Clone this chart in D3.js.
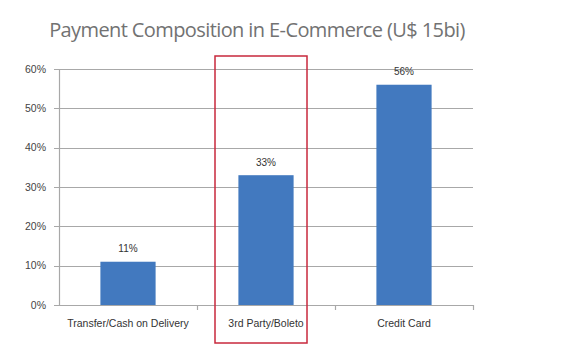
<!DOCTYPE html>
<html><head><meta charset="utf-8">
<script src="https://cdn.jsdelivr.net/npm/d3@7"></script>
<style>body{margin:0;background:#fff}svg{display:block}</style>
</head><body>
<svg id="c" width="588" height="355"></svg>
<script>
const categories = ["Transfer/Cash on Delivery", "3rd Party/Boleto", "Credit Card"];
const values = [11, 33, 56];
const valueLabels = ["11%", "33%", "56%"];
const yTicks = [0, 10, 20, 30, 40, 50, 60];
const title = "Payment Composition in E-Commerce (U$ 15bi)";
const highlighted = "3rd Party/Boleto";

const svg = d3.select("#c");
const m = {left: 59, right: 473, top: 69, bottom: 305};
const x = d3.scaleBand().domain(categories).range([m.left, m.right]).paddingInner(0.6).paddingOuter(0.3);
const y = d3.scaleLinear().domain([0, 60]).range([m.bottom, m.top]);
const font = "'Liberation Sans', Arial, sans-serif";

svg.append("text").attr("x", 257).attr("y", 37).attr("text-anchor", "middle")
  .attr("font-family", "'Open Sans', sans-serif").attr("font-size", 20).attr("fill", "#727272")
  .attr("letter-spacing", -0.6).text(title);

// gridlines
svg.append("g").selectAll("line").data(yTicks).join("line")
  .attr("x1", m.left - 5).attr("x2", m.right)
  .attr("y1", d => Math.round(y(d)) + 0.5).attr("y2", d => Math.round(y(d)) + 0.5)
  .attr("stroke", "#a8a8a8").attr("stroke-width", 1.2);

// y axis line
svg.append("line").attr("x1", m.left + 0.5).attr("x2", m.left + 0.5)
  .attr("y1", y(60)).attr("y2", y(0)).attr("stroke", "#a8a8a8").attr("stroke-width", 1.2);

// y labels
svg.append("g").selectAll("text").data(yTicks).join("text")
  .attr("x", 46).attr("y", d => y(d)).attr("dy", "0.35em").attr("text-anchor", "end")
  .attr("font-family", font).attr("font-size", 10.5).attr("fill", "#444")
  .text(d => d + "%");

// category ticks between bands
const step = x.step();
const tickXs = d3.range(categories.length + 1).map(i => m.left + i * step);
svg.append("g").selectAll("line").data(tickXs.slice(1)).join("line")
  .attr("x1", d => Math.round(d) + 0.5).attr("x2", d => Math.round(d) + 0.5)
  .attr("y1", y(0)).attr("y2", y(0) + 5).attr("stroke", "#a8a8a8").attr("stroke-width", 1.2);

// bars
svg.append("g").selectAll("rect").data(categories).join("rect")
  .attr("x", d => x(d)).attr("width", x.bandwidth())
  .attr("y", (d, i) => y(values[i])).attr("height", (d, i) => y(0) - y(values[i]))
  .attr("fill", "#4279bf");

// value labels
svg.append("g").selectAll("text").data(categories).join("text")
  .attr("x", d => x(d) + x.bandwidth() / 2).attr("y", (d, i) => y(values[i]) - 13)
  .attr("dy", "0.35em").attr("text-anchor", "middle")
  .attr("font-family", font).attr("font-size", 10).attr("fill", "#333")
  .text((d, i) => valueLabels[i]);

// category labels
svg.append("g").selectAll("text").data(categories).join("text")
  .attr("x", d => x(d) + x.bandwidth() / 2).attr("y", 323).attr("dy", "0.35em")
  .attr("text-anchor", "middle").attr("font-family", font).attr("font-size", 10.5).attr("fill", "#333")
  .text(d => d);

// highlight box
const hx = x(highlighted) + x.bandwidth() / 2;
svg.append("rect").attr("x", hx - 51).attr("y", 56).attr("width", 92).attr("height", 287)
  .attr("fill", "none").attr("stroke", "#c8283c").attr("stroke-width", 1.5);
</script>
</body></html>
